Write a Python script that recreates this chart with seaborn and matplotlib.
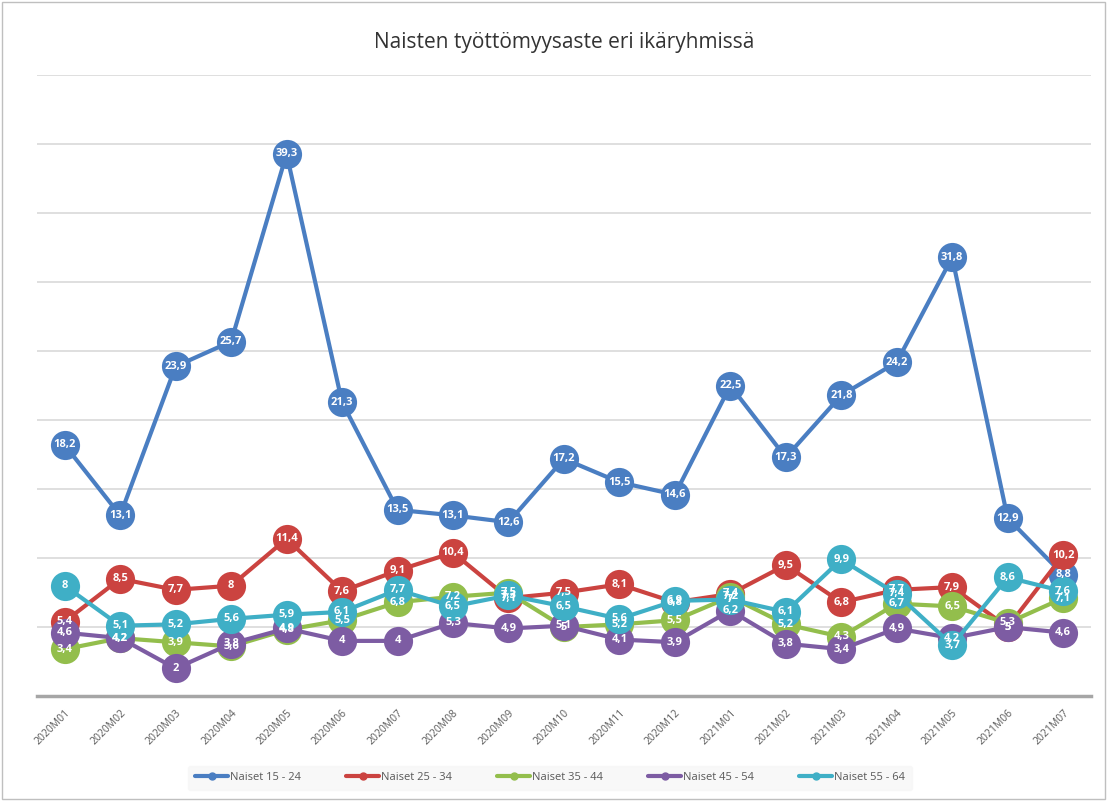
import pandas as pd
import numpy as np
import matplotlib.pyplot as plt
import seaborn as sns

# Data
months = ['2020M01', '2020M02', '2020M03', '2020M04', '2020M05', '2020M06', '2020M07',
          '2020M08', '2020M09', '2020M10', '2020M11', '2020M12', '2021M01', '2021M02',
          '2021M03', '2021M04', '2021M05', '2021M06', '2021M07']
n15_24 = [18.2, 13.1, 23.9, 25.7, 39.3, 21.3, 13.5, 13.1, 12.6, 17.2, 15.5, 14.6, 22.5, 17.3, 21.8, 24.2, 31.8, 12.9, 8.8]
n25_34 = [5.4, 8.5, 7.7, 8, 11.4, 7.6, 9.1, 10.4, 7.1, 7.5, 8.1, 6.8, 7.4, 9.5, 6.8, 7.7, 7.9, 5.0, 10.2]
n35_44 = [3.4, 4.2, 3.9, 3.6, 4.8, 5.5, 6.8, 7.2, 7.5, 5.0, 5.2, 5.5, 7.2, 5.2, 4.3, 6.7, 6.5, 5.3, 7.1]
n45_54 = [4.6, 4.2, 2, 3.8, 4.9, 4, 4, 5.3, 4.9, 5.1, 4.1, 3.9, 6.2, 3.8, 3.4, 4.9, 4.2, 5.0, 4.6]
n55_64 = [8, 5.1, 5.2, 5.6, 5.9, 6.1, 7.7, 6.5, 7.3, 6.5, 5.6, 6.9, 7.0, 6.1, 9.9, 7.4, 3.7, 8.6, 7.6]

series = ['Naiset 15 - 24', 'Naiset 25 - 34', 'Naiset 35 - 44', 'Naiset 45 - 54', 'Naiset 55 - 64']
values = [n15_24, n25_34, n35_44, n45_54, n55_64]
colors = ['#4A7EC2', '#CB4340', '#93BE4C', '#7D5CA3', '#3FAFC6']

df = pd.DataFrame({
    'kk': months * len(series),
    'x': list(range(len(months))) * len(series),
    'ryhma': np.repeat(series, len(months)),
    'arvo': np.concatenate(values),
})

sns.set_style('white')
plt.rcParams['font.family'] = ['Open Sans', 'DejaVu Sans']

fig = plt.figure(figsize=(11.07, 8.01), dpi=100)
ax = fig.add_axes([0.0334, 0.131, 0.952, 0.775])

for i in range(1, 10):
    ax.axhline(i * 5, color='#D9D9D9', lw=1.2, zorder=0)

sns.lineplot(data=df, x='x', y='arvo', hue='ryhma', hue_order=series, palette=colors,
             marker='o', markersize=21, markeredgewidth=0, linewidth=3, ax=ax,
             sort=False, legend=False)

# data labels inside the markers (they overlap in the original too)
for vals in values:
    for xi, v in enumerate(vals):
        txt = ('%g' % v).replace('.', ',')
        ax.text(xi, v, txt, ha='center', va='center', color='white', fontsize=8,
                fontweight='bold', zorder=10)

ax.set_xlim(-0.5, len(months) - 0.5)
ax.set_ylim(0, 45)
ax.set_xticks(range(len(months)))
ax.set_xticklabels(months, rotation=45, ha='right', rotation_mode='anchor',
                   fontsize=7.5, color='#595959')
ax.tick_params(axis='x', length=0, pad=8)
ax.set_yticks([])
ax.set_xlabel('')
ax.set_ylabel('')
for s in ['top', 'right', 'left']:
    ax.spines[s].set_visible(False)
ax.spines['bottom'].set_color('#A6A6A6')
ax.spines['bottom'].set_linewidth(2.5)

ax.set_title('Naisten työttömyysaste eri ikäryhmissä', fontsize=15, color='#333333', pad=20)

# legend
handles = [plt.Line2D([], [], color=c, lw=3, marker='o', markersize=5) for c in colors]
leg = fig.legend(handles, series, loc='center', bbox_to_anchor=(0.497, 0.029), ncol=5,
                 fontsize=8, frameon=True, handlelength=3, columnspacing=4,
                 handletextpad=0.2, borderpad=0.6)
leg.get_frame().set_facecolor('#F7F7F7')
leg.get_frame().set_edgecolor('#F7F7F7')
for t in leg.get_texts():
    t.set_color('#595959')

# chart border
fig.patches.append(plt.Rectangle((0.002, 0.002), 0.996, 0.996, transform=fig.transFigure,
                                 fill=False, edgecolor='#BFBFBF', lw=1))

plt.savefig('out.png', dpi=100)
